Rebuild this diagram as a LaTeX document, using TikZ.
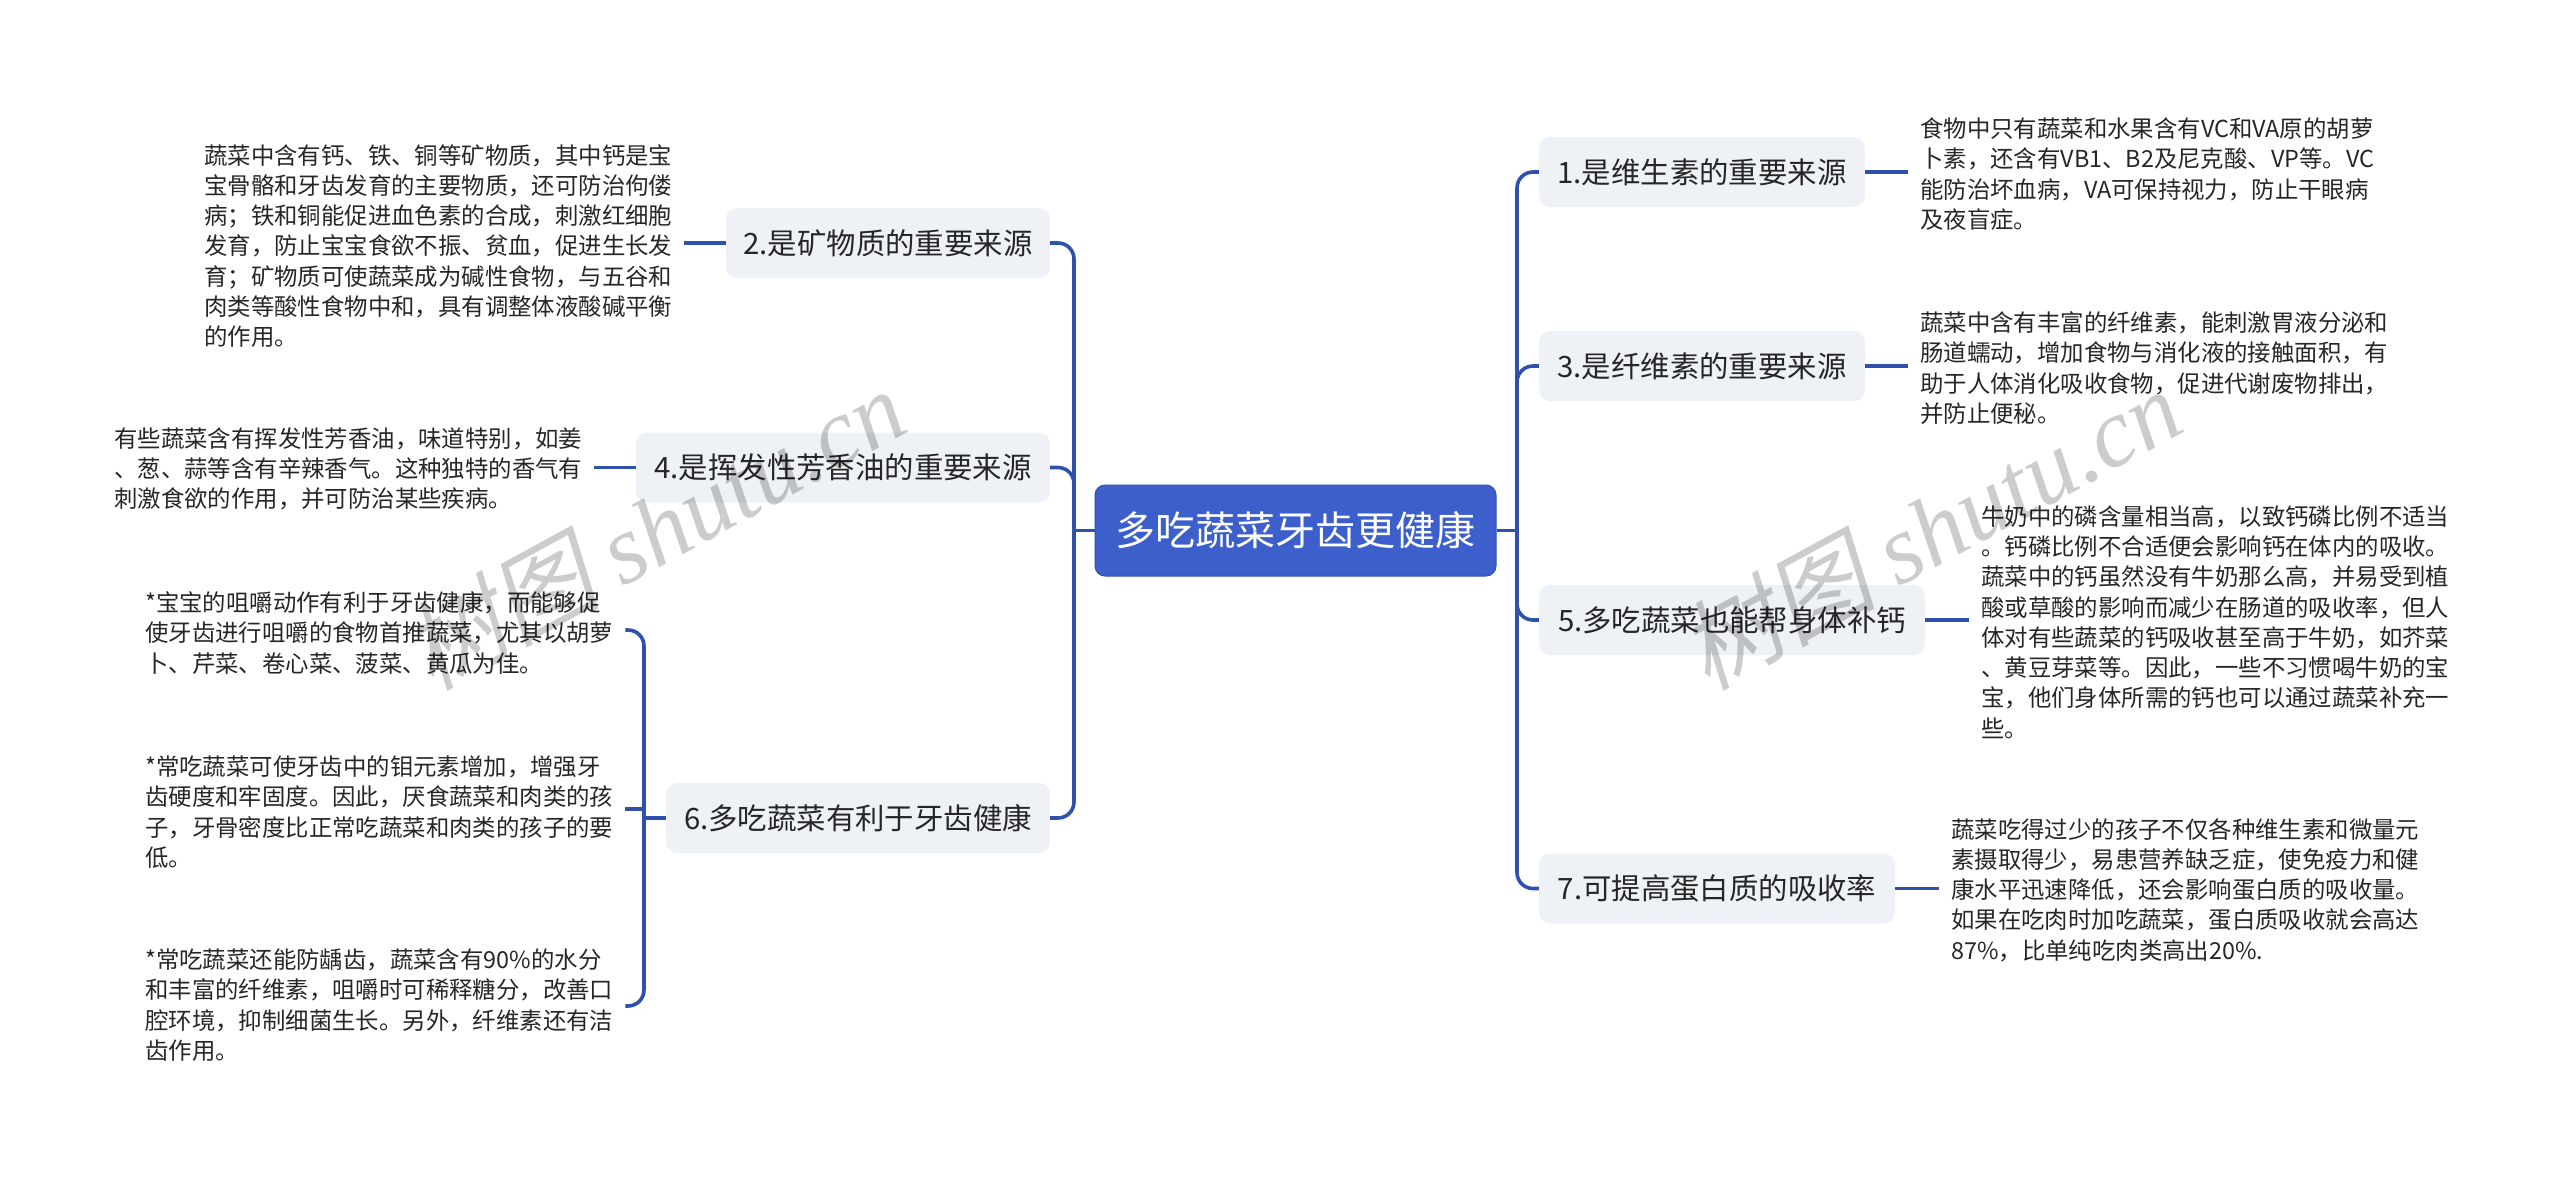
\documentclass[tikz,border=0pt]{standalone}
\usepackage{fontspec}
\setmainfont{Noto Sans CJK SC}
\newfontfamily\markcjk[FakeSlant=0.2]{Noto Sans CJK SC}
\newfontfamily\marklatin{Liberation Serif}
\usetikzlibrary{calc,positioning}
\definecolor{rootblue}{HTML}{3C5FCB}
\definecolor{linkblue}{HTML}{2F51AD}
\definecolor{boxgray}{HTML}{EEF1F5}
\definecolor{inkgray}{HTML}{262626}
\tikzset{
root/.style={draw=linkblue,fill=rootblue,text=white,rounded corners=10pt,line width=1pt,minimum width=401pt,minimum height=91pt,inner sep=0pt,font=\fontsize{40}{48}\selectfont},
branch/.style={fill=boxgray,text=inkgray,rounded corners=11pt,minimum height=70pt,inner sep=0pt,font=\fontsize{29.4}{36}\selectfont},
leaf/.style={text=inkgray,align=left,inner xsep=12pt,inner ysep=0pt,font=\fontsize{23.4}{30.3}\selectfont},
link/.style={draw=linkblue,line width=3.6pt},
trunk/.style={link,rounded corners=16pt},
watermark/.style={text=black,opacity=0.2,rotate=28.6,inner sep=0pt}
}

\begin{document}
\begin{tikzpicture}[x=1pt,y=-1pt]
	\useasboundingbox (0,0) rectangle (2560,1176);
	% centre
	\node[root] (root) at (1295.5,530.5) {多吃蔬菜牙齿更健康};
	\coordinate (rtrunk) at (1517,530.5);
	\coordinate (ltrunk) at (1074,530.5);

	% branches
	\node[branch,minimum width=326pt] (b1) at (1702,172) {1.是维生素的重要来源};
	\node[branch,minimum width=326pt] (b3) at (1702,366) {3.是纤维素的重要来源};
	\node[branch,minimum width=386pt] (b5) at (1732,620) {5.多吃蔬菜也能帮身体补钙};
	\node[branch,minimum width=356pt] (b7) at (1717,888.5) {7.可提高蛋白质的吸收率};
	\node[branch,minimum width=324pt] (b2) at (888,243) {2.是矿物质的重要来源};
	\node[branch,minimum width=414pt] (b4) at (843,467.5) {4.是挥发性芳香油的重要来源};
	\node[branch,minimum width=384pt] (b6) at (858,818) {6.多吃蔬菜有利于牙齿健康};

	% details
	\node[leaf,anchor=west] (l1) at (1908,174) {食物中只有蔬菜和水果含有VC和VA原的胡萝\\卜素，还含有VB1、B2及尼克酸、VP等。VC\\能防治坏血病，VA可保持视力，防止干眼病\\及夜盲症。};
	\node[leaf,anchor=west] (l3) at (1908,368) {蔬菜中含有丰富的纤维素，能刺激胃液分泌和\\肠道蠕动，增加食物与消化液的接触面积，有\\助于人体消化吸收食物，促进代谢废物排出，\\并防止便秘。};
	\node[leaf,anchor=west] (l5) at (1969,622) {牛奶中的磷含量相当高，以致钙磷比例不适当\\。钙磷比例不合适便会影响钙在体内的吸收。\\蔬菜中的钙虽然没有牛奶那么高，并易受到植\\酸或草酸的影响而减少在肠道的吸收率，但人\\体对有些蔬菜的钙吸收甚至高于牛奶，如芥菜\\、黄豆芽菜等。因此，一些不习惯喝牛奶的宝\\宝，他们身体所需的钙也可以通过蔬菜补充一\\些。};
	\node[leaf,anchor=west] (l7) at (1939,890) {蔬菜吃得过少的孩子不仅各种维生素和微量元\\素摄取得少，易患营养缺乏症，使免疫力和健\\康水平迅速降低，还会影响蛋白质的吸收量。\\如果在吃肉时加吃蔬菜，蛋白质吸收就会高达\\87\%，比单纯吃肉类高出20\%.};
	\node[leaf,anchor=west] (l2) at (192,246) {蔬菜中含有钙、铁、铜等矿物质，其中钙是宝\\宝骨骼和牙齿发育的主要物质，还可防治佝偻\\病；铁和铜能促进血色素的合成，刺激红细胞\\发育，防止宝宝食欲不振、贫血，促进生长发\\育；矿物质可使蔬菜成为碱性食物，与五谷和\\肉类等酸性食物中和，具有调整体液酸碱平衡\\的作用。};
	\node[leaf,anchor=west] (l4) at (102,469) {有些蔬菜含有挥发性芳香油，味道特别，如姜\\、葱、蒜等含有辛辣香气。这种独特的香气有\\刺激食欲的作用，并可防治某些疾病。};
	\node[leaf,anchor=west] (l61) at (133,633) {*宝宝的咀嚼动作有利于牙齿健康，而能够促\\使牙齿进行咀嚼的食物首推蔬菜，尤其以胡萝\\卜、芹菜、卷心菜、菠菜、黄瓜为佳。};
	\node[leaf,anchor=west] (l62) at (133,812) {*常吃蔬菜可使牙齿中的钼元素增加，增强牙\\齿硬度和牢固度。因此，厌食蔬菜和肉类的孩\\子，牙骨密度比正常吃蔬菜和肉类的孩子的要\\低。};
	\node[leaf,anchor=west] (l63) at (133,1005) {*常吃蔬菜还能防龋齿，蔬菜含有90\%的水分\\和丰富的纤维素，咀嚼时可稀释糖分，改善口\\腔环境，抑制细菌生长。另外，纤维素还有洁\\齿作用。};

	% links
	\draw[link] (root.east) -- (rtrunk);
	\draw[link] (root.west) -- (ltrunk);
	\foreach \i in {1,3,5,7}{
		\draw[trunk] (rtrunk) |- (b\i.west);
		\draw[link] (b\i.east) -- (b\i.east -| l\i.west);
	}
	\foreach \i in {2,4,6}{ \draw[trunk] (ltrunk) |- (b\i.east);}
	\foreach \i in {2,4}{ \draw[link] (b\i.west) -- (b\i.west -| l\i.east);}

	% fork of 6
	\coordinate (fork) at (644,818);
	\draw[link] (b6.west) -- (fork);
	\draw[trunk] (fork) |- ([yshift=3pt]l61.east);
	\draw[trunk] (fork) |- ([yshift=-1pt]l63.east);
	\draw[link] (644,809) -- ([yshift=3pt]l62.east);

	% watermarks
	\foreach \x/\n in {654/1,1930/2}{
		\node[watermark] (mark\n) at (\x,528) {\fontsize{98}{110}\selectfont\markcjk 树图 \marklatin\itshape shutu.cn};
	}
\end{tikzpicture}
\end{document}
